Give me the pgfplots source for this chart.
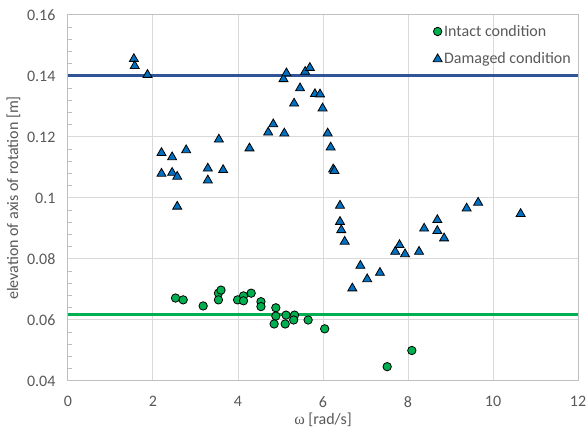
\documentclass[border=0pt]{standalone}
\usepackage{fontspec}
\setmainfont{Carlito}
\newfontfamily\omegafont{Liberation Serif}
\usepackage{pgfplots}
\pgfplotsset{compat=1.18}
\usetikzlibrary{calc}
\definecolor{txt}{HTML}{595959}
\definecolor{grd}{HTML}{D9D9D9}
\definecolor{axl}{HTML}{BFBFBF}
\definecolor{dmg}{HTML}{0070C0}
\definecolor{intc}{HTML}{00B050}
\definecolor{bline}{HTML}{2F5597}
\begin{document}
\begin{tikzpicture}
\begin{axis}[name=ax, scale only axis, width=510pt, height=366pt,
  xmin=0, xmax=12, ymin=0.04, ymax=0.16,
  xtick={0,2,4,6,8,10,12},
  ytick={0.04,0.06,0.08,0.1,0.12,0.14,0.16},
  minor y tick num=4,
  scaled y ticks=false,
  grid=major, major grid style={grd, line width=1pt},
  axis line style={axl, line width=1pt},
  tick align=inside,
  ytick pos=left,
  xtick style={draw=none},
  ytick style={axl, line width=0.8pt},
  major tick length=0pt, minor tick length=4.5pt,
  font=\fontsize{16}{19}\selectfont,
  /pgf/number format/assume math mode=true,
  ticklabel style={text=txt, font=\fontsize{16}{19}\selectfont},
  yticklabel style={/pgf/number format/fixed, /pgf/number format/precision=2, xshift=-9pt},
  xticklabel style={yshift=-12pt},
  xlabel={{\omegafont ω} [rad/s]},
  ylabel={elevation of axis of rotation [m]},
  label style={text=txt, font=\fontsize{16}{19}\selectfont},
  xlabel style={yshift=2pt},
  ylabel style={yshift=0pt},
  legend style={at={(1,1)}, anchor=north east, xshift=-2pt, yshift=-6pt, draw=none, fill=none,
    text=txt, font=\fontsize{16}{19}\selectfont, row sep=11pt},
  legend cell align=left,
  legend image code/.code={\draw[#1] plot coordinates {(0pt,0pt)};},
]
\addplot[bline, line width=3pt, forget plot] coordinates {(0,0.14) (12,0.14)};
\addplot[intc, line width=3pt, forget plot] coordinates {(0,0.0617) (12,0.0617)};
\addplot[only marks, mark=*, mark size=4.2pt, mark options={fill=intc, draw=black, line width=0.8pt}] coordinates {
(2.53,0.0672) (2.71,0.0666) (3.18,0.0646) (3.54,0.0688) (3.60,0.0698) (3.54,0.0666)
(3.99,0.0666) (4.13,0.0679) (4.13,0.0663) (4.31,0.0688) (4.54,0.0660) (4.54,0.0644)
(4.89,0.0640) (4.89,0.0613) (4.85,0.0587) (5.11,0.0587) (5.13,0.0616) (5.33,0.0616)
(5.31,0.0600) (5.65,0.0600) (6.04,0.0571) (7.51,0.0447) (8.09,0.0500)
};
\addlegendentry{Intact condition}
\addplot[only marks, mark=triangle*, mark size=5.2pt, mark options={fill=dmg, draw=black, line width=0.8pt}] coordinates {
(1.55,0.1456) (1.57,0.1433) (1.87,0.1404)
(2.20,0.1148) (2.20,0.1080) (2.45,0.1134) (2.45,0.1083) (2.57,0.1070) (2.57,0.0972) (2.78,0.1157)
(3.29,0.1097) (3.29,0.1058) (3.55,0.1192) (3.65,0.1092)
(4.27,0.1163) (4.71,0.1215) (4.83,0.1242) (5.09,0.1212) (5.07,0.1390) (5.14,0.1409)
(5.32,0.1310) (5.46,0.1360) (5.58,0.1414) (5.69,0.1427) (5.81,0.1341) (5.93,0.1340)
(5.99,0.1294) (6.11,0.1212) (6.18,0.1166) (6.24,0.1094) (6.27,0.1089)
(6.40,0.0975) (6.40,0.0922) (6.43,0.0895) (6.51,0.0857) (6.69,0.0704) (6.88,0.0778)
(7.04,0.0734) (7.34,0.0755) (7.70,0.0824) (7.80,0.0846) (7.93,0.0816) (8.26,0.0824)
(8.38,0.0900) (8.69,0.0928) (8.69,0.0892) (8.85,0.0868) (9.38,0.0966) (9.65,0.0985)
(10.65,0.0948)
};
\addlegendentry{Damaged condition}
\end{axis}
\pgfresetboundingbox
\path[use as bounding box] ($(ax.south west)+(-68pt,-49pt)$) rectangle ($(ax.north east)+(9pt,15pt)$);
\end{tikzpicture}
\end{document}
